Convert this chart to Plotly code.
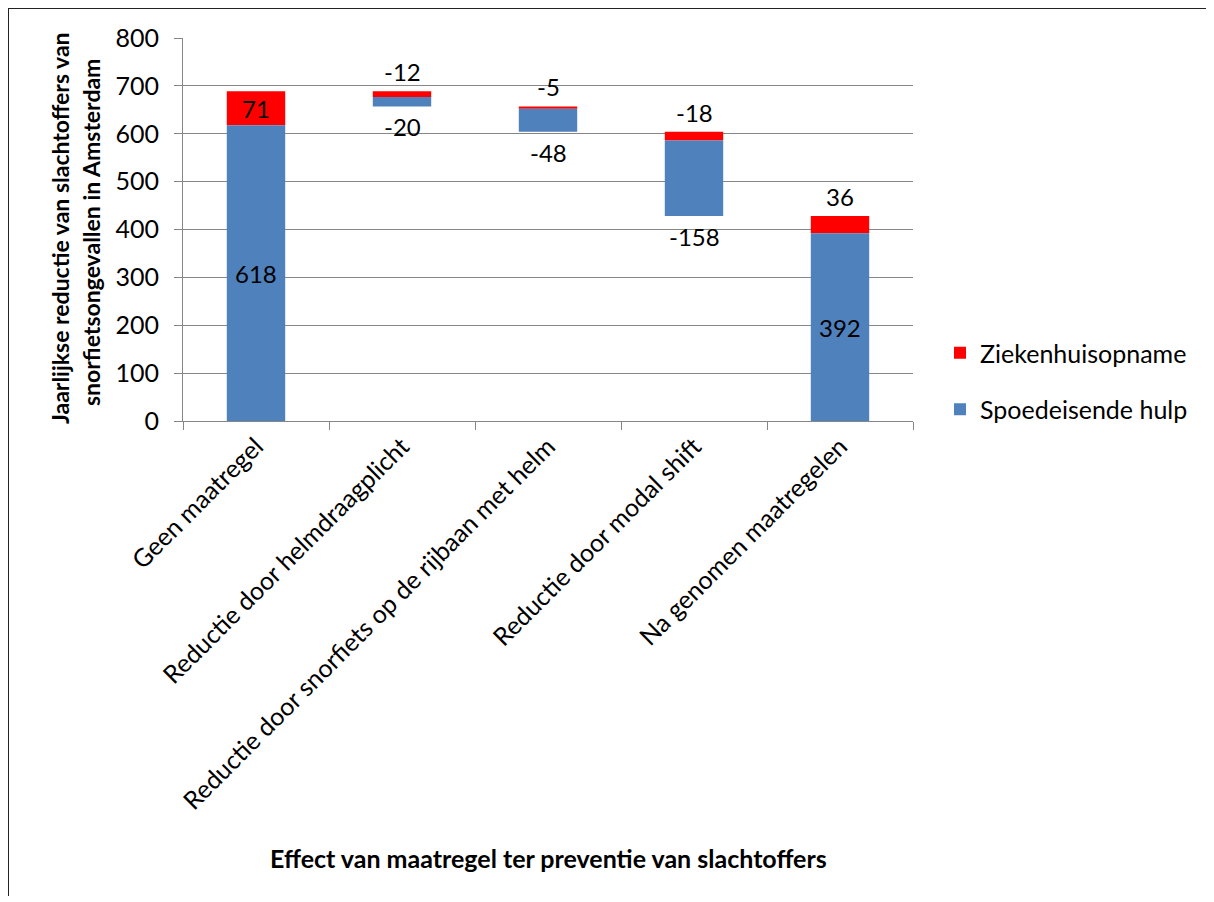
import plotly.graph_objects as go

categories = [
    "Geen maatregel",
    "Reductie door helmdraagplicht",
    "Reductie door snorfiets op de rijbaan met helm",
    "Reductie door modal shift",
    "Na genomen maatregelen",
]
spoedeisende_hulp = [618, -20, -48, -158, 392]
ziekenhuisopname = [71, -12, -5, -18, 36]
is_total = [True, False, False, False, True]
y_ticks = [0, 100, 200, 300, 400, 500, 600, 700, 800]

BLUE = "#4F81BD"
RED = "#FF0000"
GRID = "#868686"
FONT = "Lato, Carlito, Calibri, sans-serif"

# waterfall geometry derived from the data
blue_base, blue_h, red_base, red_h = [], [], [], []
level = 0
for b, r, tot in zip(spoedeisende_hulp, ziekenhuisopname, is_total):
    if tot:
        blue_base.append(0); blue_h.append(b)
        red_base.append(b); red_h.append(r)
        level = b + r
    else:
        red_base.append(level + r); red_h.append(-r)
        blue_base.append(level + r + b); blue_h.append(-b)
        level = level + r + b

W, H = 1200, 888
ML, MR, MT, MB = 175, 295, 30, 475
PW, PH = W - ML - MR, H - MT - MB

fig = go.Figure()
fig.add_trace(go.Bar(
    x=categories, y=red_h, base=red_base, name="Ziekenhuisopname",
    marker=dict(color=RED, line=dict(width=0)), legendgroup="r",
    hoverinfo="skip",
))
fig.add_trace(go.Bar(
    x=categories, y=blue_h, base=blue_base, name="Spoedeisende hulp",
    marker=dict(color=BLUE, line=dict(width=0)), legendgroup="b",
    hoverinfo="skip",
))

annotations = []
lab_font = dict(family=FONT, size=24, color="black")
for i, cat in enumerate(categories):
    b, r = spoedeisende_hulp[i], ziekenhuisopname[i]
    if is_total[i]:
        annotations.append(dict(x=cat, y=blue_base[i] + blue_h[i] / 2, text=str(b),
                                showarrow=False, yanchor="middle", font=lab_font))
        if red_h[i] >= 50:
            annotations.append(dict(x=cat, y=red_base[i] + red_h[i] / 2, text=str(r),
                                    showarrow=False, yanchor="middle", font=lab_font))
        else:
            annotations.append(dict(x=cat, y=red_base[i] + red_h[i], text=str(r),
                                    showarrow=False, yanchor="bottom", yshift=3, font=lab_font))
    else:
        annotations.append(dict(x=cat, y=red_base[i] + red_h[i], text=str(r),
                                showarrow=False, yanchor="bottom", yshift=3, font=lab_font))
        annotations.append(dict(x=cat, y=blue_base[i], text=str(b),
                                showarrow=False, yanchor="top", yshift=-4, font=lab_font))

ytitle_font = dict(family=FONT, size=23, color="black", weight="bold")
xtitle_font = dict(family=FONT, size=25, color="black", weight="bold")
annotations.append(dict(xref="paper", yref="paper", x=(52 - ML) / PW, y=(PH - (228 - 8 - MT)) / PH,
                        text="Jaarlijkse reductie van slachtoffers van", textangle=-90,
                        showarrow=False, xanchor="center", yanchor="middle", font=ytitle_font))
annotations.append(dict(xref="paper", yref="paper", x=(83 - ML) / PW, y=(PH - (233 - 8 - MT)) / PH,
                        text="snorfietsongevallen in Amsterdam", textangle=-90,
                        showarrow=False, xanchor="center", yanchor="middle", font=ytitle_font))
annotations.append(dict(xref="paper", yref="paper", x=0.5, y=(PH - (850 - MT)) / PH,
                        text="Effect van maatregel ter preventie van slachtoffers",
                        showarrow=False, xanchor="center", yanchor="middle", font=xtitle_font))

shapes = [
    dict(type="line", xref="paper", yref="paper", x0=(0 - ML) / PW, x1=(0 - ML) / PW,
         y0=1 + MT / PH, y1=-MB / PH, line=dict(color="#222222", width=2)),
    dict(type="line", xref="paper", yref="paper", x0=(0 - ML) / PW, x1=1 + MR / PW,
         y0=1 + MT / PH, y1=1 + MT / PH, line=dict(color="#222222", width=2)),
]

fig.update_layout(
    width=W, height=H,
    margin=dict(l=ML, r=MR, t=MT, b=MB, autoexpand=False),
    paper_bgcolor="white", plot_bgcolor="white",
    barmode="overlay", bargap=0.6,
    font=dict(family=FONT, size=25, color="black"),
    showlegend=True,
    legend=dict(x=(932 - ML) / PW, y=(PH - (322 - MT)) / PH, xanchor="left", yanchor="top",
                traceorder="grouped", tracegroupgap=21,
                font=dict(family=FONT, size=25, color="black"), bgcolor="rgba(0,0,0,0)"),
    annotations=annotations,
    shapes=shapes,
)
fig.update_xaxes(
    type="category", tickangle=-45, tickson="boundaries", ticks="outside", ticklen=8,
    tickcolor=GRID, showline=True, linecolor=GRID, linewidth=1, showgrid=False,
    tickfont=dict(family=FONT, size=25, color="black"), automargin=False,
    ticklabelstandoff=0,
)
fig.update_yaxes(
    range=[0, 800], tickvals=y_ticks, ticks="outside", ticklen=8, tickcolor=GRID,
    showline=True, linecolor=GRID, linewidth=1, showgrid=True, gridcolor=GRID, gridwidth=1,
    zeroline=False, ticklabelstandoff=10,
    tickfont=dict(family=FONT, size=25, color="black"), automargin=False,
)

fig.write_html("out.html")
